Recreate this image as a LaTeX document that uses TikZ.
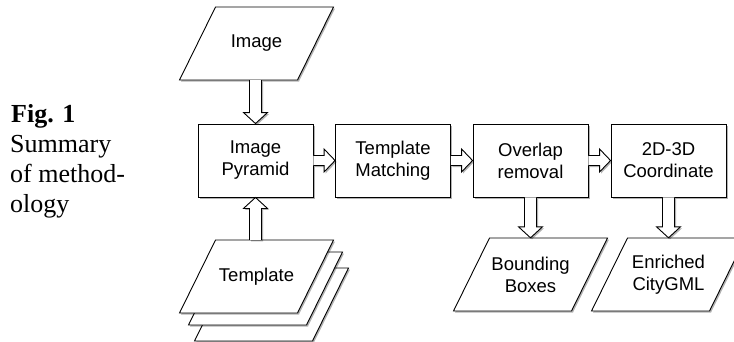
\documentclass[tikz,border=0pt]{standalone}
\usepackage{fontspec}
\setmainfont{Liberation Serif}
\newfontfamily\arialfont{Liberation Sans}
\usetikzlibrary{calc,shadows}

\newcommand\paraat[2]{%
  \draw[parashape] ($(#1)+(#2)+(-41,-36.5)$) -- ($(#1)+(#2)+(77,-36.5)$) --
    ($(#1)+(#2)+(41,36.5)$) -- ($(#1)+(#2)+(-77,36.5)$) -- cycle;}
\newcommand\myharr[2]{%
  \draw[blk] ($(#1.east)+(0,-5)$) -- ($(#2.west)+(-11,-5)$) -- ($(#2.west)+(-11,-11.5)$) --
    (#2.west) -- ($(#2.west)+(-11,11.5)$) -- ($(#2.west)+(-11,5)$) -- ($(#1.east)+(0,5)$);}
\newcommand\mydarr[2]{%
  \draw[blk] ($(#1)+(-6,0)$) -- ($(#2)+(-6,-11)$) -- ($(#2)+(-12,-11)$) --
    (#2) -- ($(#2)+(12,-11)$) -- ($(#2)+(6,-11)$) -- ($(#1)+(6,0)$);}
\newcommand\myuarr[2]{%
  \draw[blk] ($(#1)+(-6,0)$) -- ($(#2)+(-6,11)$) -- ($(#2)+(-12,11)$) --
    (#2) -- ($(#2)+(12,11)$) -- ($(#2)+(6,11)$) -- ($(#1)+(6,0)$);}

\begin{document}
\begin{tikzpicture}[x=1pt,y=-1pt,
  shad/.style={drop shadow={shadow xshift=1.5pt,shadow yshift=-1.5pt,opacity=0.3,fill=black}},
  procbox/.style={draw,line width=0.9pt,fill=white,shad,minimum width=115pt,minimum height=73pt,
    inner sep=0pt,align=center,font={\arialfont\fontsize{18.5}{22}\selectfont}},
  ptext/.style={minimum width=118pt,minimum height=73pt,inner sep=0pt,align=center,
    font={\arialfont\fontsize{18.5}{22}\selectfont}},
  parashape/.style={draw,line width=0.9pt,fill=white,shad,line join=miter},
  blk/.style={draw,line width=0.9pt,fill=white,shad,line join=miter},
  capt/.style={inner sep=0pt,anchor=base west,font={\fontsize{26}{30}\selectfont}}]
\useasboundingbox (0,0) rectangle (734,341);

% caption
\node[capt] (cap1) at (11,122) {\textbf{Fig. 1}};
\node[capt] (cap2) at (10,152) {Summary};
\node[capt] (cap3) at (10,182) {of method-};
\node[capt] (cap4) at (10,212) {ology};

% process boxes
\node[procbox] (pyr) at (255.5,160.5) {Image\\Pyramid};
\node[procbox] (tm) at (393,160.5) {Template\\Matching};
\node[procbox] (ovl) at (530.5,160.5) {Overlap\\removal};
\node[procbox] (coord) at (668.5,160.5) {2D-3D\\Coordinate};

% input/output parallelograms
\coordinate (imgc) at (256.5,43.5);
\paraat{imgc}{0,0}
\node[ptext] (img) at (imgc) {Image};

\coordinate (tplc) at (256.5,276.5);
\paraat{tplc}{15,28}
\paraat{tplc}{9,12}
\paraat{tplc}{0,0}
\node[ptext] (tpl) at (tplc) {Template};

\coordinate (bbc) at (530.5,274.5);
\paraat{bbc}{0,0}
\node[ptext] (bb) at (bbc) {Bounding\\Boxes};

\coordinate (cgc) at (668.5,274.5);
\paraat{cgc}{0,0}
\node[ptext] (cg) at (cgc) {Enriched\\CityGML};

% block arrows
\mydarr{pyr.north |- img.south}{pyr.north}
\myuarr{pyr.south |- tpl.north}{pyr.south}
\myharr{pyr}{tm}
\myharr{tm}{ovl}
\myharr{ovl}{coord}
\mydarr{ovl.south}{bb.north}
\mydarr{coord.south}{cg.north}
\end{tikzpicture}
\end{document}
